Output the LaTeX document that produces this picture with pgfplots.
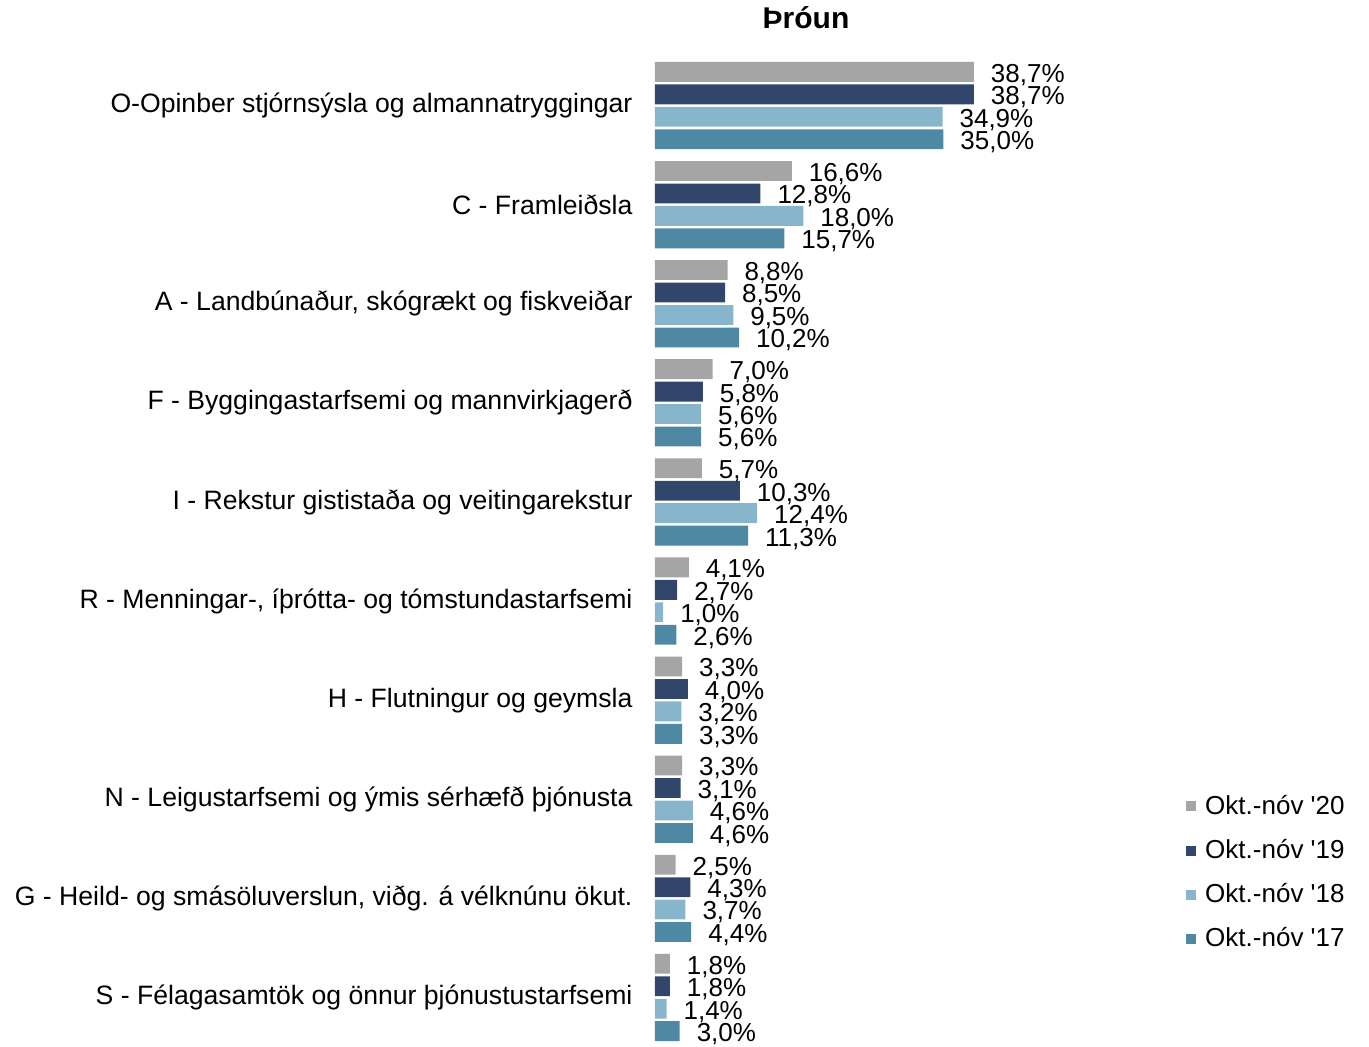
\documentclass[border=0pt]{standalone}
\usepackage{fontspec}
\setmainfont{Liberation Sans}
\usepackage{pgfplots}
\pgfplotsset{compat=1.18}
\definecolor{c20}{HTML}{A5A5A5}
\definecolor{c19}{HTML}{31466A}
\definecolor{c18}{HTML}{87B6CC}
\definecolor{c17}{HTML}{4F88A3}
\newcommand{\lblfont}{\fontsize{13bp}{15bp}\selectfont}
\newcommand{\catfont}{\fontsize{13.3bp}{15bp}\selectfont}
\begin{document}
\begin{tikzpicture}
\begin{axis}[
  scale only axis,
  width=206bp, height=495.5bp,
  xmin=0, xmax=50,
  ymin=-0.5, ymax=9.5,
  y dir=reverse,
  xbar, bar width=0.2,
  clip=false,
  hide x axis,
  axis line style={draw=none},
  ytick style={draw=none},
  ytick={0,...,9},
  yticklabels={O-Opinber stjórnsýsla og almannatryggingar,
    C - Framleiðsla,
    {A - Landbúnaður, skógrækt og fiskveiðar},
    F - Byggingastarfsemi og mannvirkjagerð,
    I - Rekstur gististaða og veitingarekstur,
    {R - Menningar-, íþrótta- og tómstundastarfsemi},
    H - Flutningur og geymsla,
    N - Leigustarfsemi og ýmis sérhæfð þjónusta,
    {G - Heild- og smásöluverslun, viðg. á vélknúnu ökut.},
    S - Félagasamtök og önnur þjónustustarfsemi},
  yticklabel style={font=\catfont, xshift=-3.5bp},
  nodes near coords={\pgfmathprintnumber[fixed,fixed zerofill,precision=1,use comma,assume math mode=true]{\pgfplotspointmeta}\%},
  every node near coord/.append style={font=\lblfont, anchor=west, xshift=5bp, yshift=-1.5bp, text=black},
  legend style={draw=none, fill=none, font=\lblfont, at={(1.274,0.176)}, anchor=west,
    row sep=7bp, /tikz/every odd column/.append style={column sep=2.5bp}},
  legend cell align=left,
  legend image code/.code={\fill[#1] (0bp,-2.5bp) rectangle (5bp,2.5bp);},
]
\addplot[fill=c20, draw=none, bar shift=-0.34] coordinates {
  (38.7,0) (16.6,1) (8.8,2) (7.0,3) (5.7,4) (4.1,5) (3.3,6) (3.3,7) (2.5,8) (1.8,9)};
\addplot[fill=c19, draw=none, bar shift=-0.113] coordinates {
  (38.7,0) (12.8,1) (8.5,2) (5.8,3) (10.3,4) (2.7,5) (4.0,6) (3.1,7) (4.3,8) (1.8,9)};
\addplot[fill=c18, draw=none, bar shift=0.113] coordinates {
  (34.9,0) (18.0,1) (9.5,2) (5.6,3) (12.4,4) (1.0,5) (3.2,6) (4.6,7) (3.7,8) (1.4,9)};
\addplot[fill=c17, draw=none, bar shift=0.34] coordinates {
  (35.0,0) (15.7,1) (10.2,2) (5.6,3) (11.3,4) (2.6,5) (3.3,6) (4.6,7) (4.4,8) (3.0,9)};
\legend{Okt.-nóv \textquotesingle20, Okt.-nóv \textquotesingle19, Okt.-nóv \textquotesingle18, Okt.-nóv \textquotesingle17}
\end{axis}
\node[font=\bfseries\fontsize{15bp}{17bp}\selectfont] at (75.5bp,514.5bp) {Þróun};
\pgfresetboundingbox
\path[use as bounding box] (-327.5bp,0) rectangle (357bp,523.5bp);
\end{tikzpicture}
\end{document}
